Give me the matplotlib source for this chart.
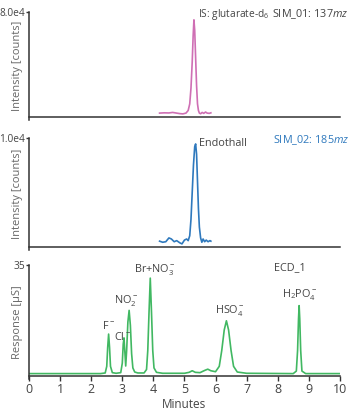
import matplotlib
matplotlib.use('Agg')
import matplotlib.pyplot as plt

plt.rcParams['font.family'] = ['Open Sans', 'DejaVu Sans']
plt.rcParams['mathtext.fontset'] = 'custom'
plt.rcParams['mathtext.rm'] = 'Open Sans'
plt.rcParams['mathtext.it'] = 'Open Sans:italic'

# SIM_01 trace (IS: glutarate-d6), minutes / counts
t1 = [4.20, 4.35, 4.50, 4.62, 4.72, 4.85, 4.95, 5.05, 5.12, 5.17, 5.21, 5.25,
      5.28, 5.305, 5.33, 5.36, 5.39, 5.42, 5.45, 5.48, 5.52, 5.57, 5.62, 5.68,
      5.73, 5.80, 5.85]
y1 = [3000, 3200, 3100, 3500, 3100, 2600, 2400, 3000, 5000, 10000, 22000, 42000,
      62000, 74000, 66000, 45000, 24000, 10000, 5000, 3000, 2500, 3500, 2800, 3800,
      3000, 2800, 3200]

# SIM_02 trace (Endothall)
t2 = [4.20, 4.30, 4.40, 4.50, 4.58, 4.67, 4.75, 4.85, 4.92, 5.00, 5.07, 5.12,
      5.17, 5.21, 5.25, 5.29, 5.33, 5.36, 5.39, 5.42, 5.45, 5.48, 5.52, 5.56,
      5.60, 5.65, 5.70, 5.76, 5.82, 5.85]
y2 = [500, 400, 450, 800, 700, 450, 550, 350, 250, 600, 700, 550,
      1000, 2500, 5000, 7500, 9200, 9450, 8500, 6000, 3500, 1800, 800, 400,
      700, 450, 600, 450, 550, 500]

# ECD_1 conductivity trace, minutes / uS
t3 = [0, 2.30, 2.45, 2.50, 2.53, 2.56, 2.59, 2.62, 2.68, 2.80, 2.95, 3.00, 3.03,
      3.055, 3.08, 3.11, 3.14, 3.18, 3.22, 3.26, 3.30, 3.34, 3.40, 3.50, 3.70,
      3.78, 3.82, 3.86, 3.90, 3.94, 3.98, 4.02, 4.10, 4.30, 5.00, 5.15, 5.25,
      5.35, 5.50, 5.65, 5.75, 5.85, 6.00, 6.12, 6.20, 6.28, 6.35, 6.42, 6.50,
      6.58, 6.70, 7.00, 8.50, 8.60, 8.64, 8.67, 8.69, 8.71, 8.74, 8.78, 8.90, 10]
y3 = [0.7, 0.7, 0.9, 3.0, 9.0, 13.2, 9.0, 3.0, 1.0, 0.8, 1.0, 4.0, 10.0,
      12.0, 8.0, 3.1, 8.0, 17.0, 20.7, 16.0, 7.0, 2.5, 1.2, 0.9, 0.9,
      2.0, 8.0, 20.0, 30.9, 20.0, 8.0, 2.5, 1.1, 0.8, 0.8, 1.1, 1.6,
      1.1, 1.0, 1.7, 2.1, 1.6, 1.3, 3.0, 8.0, 14.5, 17.4, 14.5, 8.0,
      3.0, 1.2, 0.8, 0.7, 1.5, 8.0, 18.0, 22.2, 18.0, 8.0, 1.5, 0.7, 0.7]

peak_labels = ['F$^-$', 'Cl$^-$', 'NO$_2^-$', 'Br+NO$_3^-$', 'HSO$_4^-$', 'H$_2$PO$_4^-$']
label_x = [2.55, 2.72, 3.13, 4.05, 6.45, 8.72]
label_y = [14.0, 12.3, 21.3, 31.4, 18.4, 23.2]

pink = '#cf6fb4'
blue = '#2f79bd'
green = '#41b862'
txt = '#444444'
axc = '#333333'

fig = plt.figure(figsize=(3.5, 4.13), dpi=100)
L, W = 0.083, 0.888
ax1 = fig.add_axes([L, 0.709, W, 0.262])
ax2 = fig.add_axes([L, 0.395, W, 0.271])
ax3 = fig.add_axes([L, 0.082, W, 0.276])

fs = 7.8

def style(ax, top, toplabel, ylab):
    ax.set_xlim(0, 10)
    ax.set_ylim(-0.03 * top, top)
    for s in ['top', 'right']:
        ax.spines[s].set_visible(False)
    ax.spines['bottom'].set_position(('data', 0))
    for s in ['left', 'bottom']:
        ax.spines[s].set_color(axc)
        ax.spines[s].set_linewidth(1.1)
    ax.set_yticks([top])
    ax.set_yticklabels([toplabel])
    ax.tick_params(axis='y', length=2.5, width=1, color=axc, labelsize=7.3,
                   labelcolor=txt, pad=0.5)
    ax.set_ylabel(ylab, fontsize=8, color='#666666')
    ax.yaxis.set_label_coords(-0.018, 0.5)

ax1.plot(t1, y1, color=pink, lw=1.2)
style(ax1, 80000, '8.0e4', 'Intensity [counts]')
ax1.set_xticks([])
ax1.text(5.45, 77800, r'IS: glutarate-d$_6$', fontsize=7.3, color=txt, va='center')
ax1.text(7.82, 78500, r'SIM_01: 137$\it{mz}$', fontsize=fs, color=txt, va='center',
         clip_on=False)

ax2.plot(t2, y2, color=blue, lw=1.2)
style(ax2, 10000, '1.0e4', 'Intensity [counts]')
ax2.set_xticks([])
ax2.text(5.48, 9500, 'Endothall', fontsize=fs, color=txt, va='center')
ax2.text(7.86, 9820, r'SIM_02: 185$\it{mz}$', fontsize=fs, color=blue, va='center',
         clip_on=False)

ax3.plot(t3, y3, color=green, lw=1.2)
style(ax3, 35, '35', 'Response [µS]')
ax3.set_xticks(range(0, 11))
ax3.tick_params(axis='x', length=3.5, width=1, color=axc, labelsize=9,
                labelcolor=txt, pad=2)
ax3.set_xlabel('Minutes', fontsize=8.5, color=txt, labelpad=1)
ax3.text(8.38, 34.3, 'ECD_1', fontsize=fs, color=txt, ha='center', va='center')
for lab, x, y in zip(peak_labels, label_x, label_y):
    ha = 'left' if lab.startswith('Cl') else 'center'
    va = 'center' if lab.startswith('Cl') else 'bottom'
    ax3.text(x, y, lab, fontsize=fs, color=txt, ha=ha, va=va)

fig.savefig('out.png', dpi=100)
